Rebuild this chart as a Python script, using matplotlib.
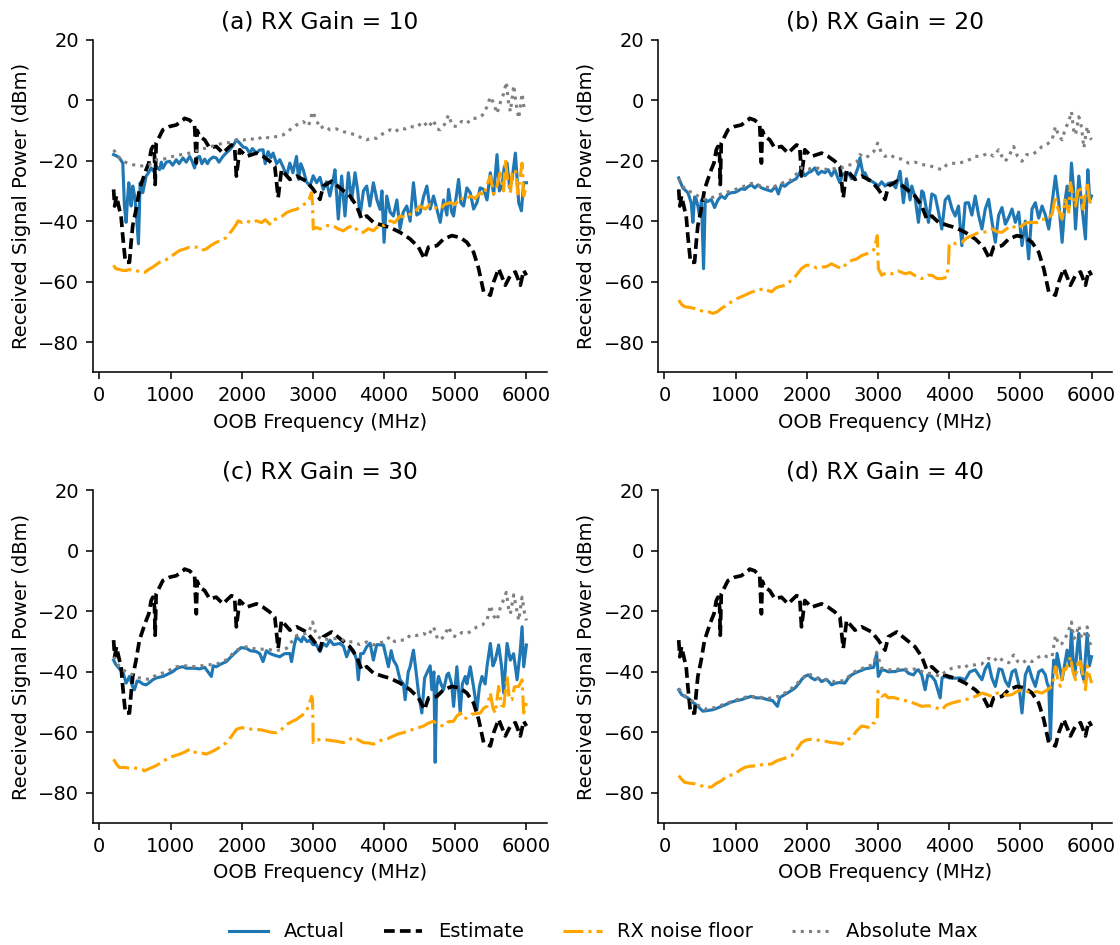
import matplotlib
matplotlib.use("Agg")
import matplotlib.pyplot as plt

# ---------------- data (frequency MHz, received power dBm) ----------------
estimate = [(200,-29.5),(215,-35.0),(240,-31.7),(282,-36.1),(305,-38.3),(329,-45.0),(366,-53.6),
            (400,-53.6),(423,-53.6),(446,-47.0),(469,-41.5),(516,-36.1),(563,-29.5),(610,-26.2),
            (657,-23.0),(695,-20.8),(728,-16.4),(751,-15.3),(775,-18.6),(784,-27.9),(798,-14.2),
            (822,-13.1),(892,-9.8),(986,-8.7),(1080,-8.2),(1174,-6.6),(1197,-6.0),(1268,-6.6),
            (1338,-8.2),(1362,-20.8),(1375,-10.0),(1408,-12.0),(1479,-13.1),(1549,-15.8),(1643,-15.3),
            (1737,-17.5),(1784,-16.4),(1855,-14.8),(1900,-15.3),(1925,-25.1),(1972,-16.4),(2066,-18.6),
            (2207,-17.5),(2300,-18.6),(2394,-20.2),(2465,-21.9),(2512,-32.2),(2559,-23.0),(2676,-26.2),
            (2770,-25.1),(2911,-26.8),(3005,-29.5),(3099,-32.8),(3146,-28.4),(3263,-26.8),(3380,-29.0),
            (3521,-31.7),(3615,-35.0),(3685,-39.3),(3756,-38.3),(3850,-40.4),(3991,-41.5),(4085,-42.1),
            (4225,-43.7),(4366,-45.9),(4484,-48.6),(4568,-52.5),(4624,-48.6),(4742,-48.1),(4836,-45.9),
            (4953,-44.8),(5070,-45.4),(5164,-47.0),(5258,-50.3),(5329,-55.7),(5399,-63.4),(5493,-64.5),
            (5540,-60.1),(5610,-55.7),(5704,-61.2),(5775,-57.9),(5845,-56.8),(5915,-61.2),(5962,-56.3),
            (6000,-57.9)]

actual_a = [(200,-18.0),(240,-18.4),(282,-19.1),(329,-20.8),(352,-35.0),(376,-40.4),(395,-33),(413,-27.3),
            (430,-31),(446,-35.0),(469,-28.4),(490,-31),(516,-36.1),(549,-47.5),(573,-27.3),(610,-30.6),
            (657,-25.1),(690,-24),(728,-22.4),(760,-23.5),(798,-21.9),(845,-23.0),(870,-20.5),(892,-22.5),
            (940,-20.5),(986,-20.2),(1030,-21.5),(1080,-19.7),(1120,-21),(1174,-19.1),(1220,-20.5),
            (1268,-18.6),(1300,-20),(1338,-22.4),(1370,-19),(1408,-18.6),(1440,-21),(1480,-19.5),
            (1520,-21),(1549,-19.7),(1600,-18.8),(1643,-19.1),(1680,-20.5),(1737,-18.6),(1780,-17.5),
            (1831,-16.4),(1880,-15),(1925,-13.1),(1972,-14.2),(2020,-15.5),(2066,-15.8),(2110,-17.5),
            (2150,-16),(2207,-17.5),(2250,-16.5),(2300,-16.4),(2330,-21.0),(2370,-17),(2410,-19),
            (2441,-17.5),(2490,-21),(2535,-19.7),(2580,-22),(2629,-25.1),(2676,-20.8),(2720,-24),
            (2770,-18.6),(2800,-26.2),(2830,-21),(2864,-23.0),(2910,-27),(2958,-28.4),(3005,-25),
            (3052,-27.3),(3100,-25.5),(3146,-29.5),(3190,-27),(3239,-31.7),(3280,-27),(3310,-23.0),
            (3357,-39.3),(3404,-25.1),(3451,-38.3),(3498,-24.0),(3545,-33),(3592,-24.0),(3630,-30),
            (3662,-38.3),(3710,-30),(3756,-28.4),(3800,-35),(3850,-27.3),(3900,-33),(3944,-36.1),
            (3970,-30),(4000,-47.0),(4038,-31.7),(4085,-37),(4131,-38.3),(4180,-33),(4225,-42.6),
            (4270,-37),(4319,-35.0),(4366,-40),(4413,-27.3),(4460,-38),(4507,-37.2),(4554,-32),
            (4601,-28.4),(4648,-36),(4695,-31.7),(4742,-36),(4789,-40.4),(4836,-33),(4883,-38),
            (4906,-29.5),(4950,-37),(4977,-38.3),(5047,-26.2),(5080,-34),(5117,-35.0),(5164,-29),
            (5211,-30.6),(5258,-36),(5305,-33.9),(5350,-29),(5399,-29.5),(5446,-33),(5493,-24.0),
            (5540,-31.1),(5587,-18.0),(5620,-30),(5657,-28.4),(5690,-22),(5728,-20.8),(5765,-29),
            (5798,-26.2),(5845,-17.5),(5892,-33.9),(5930,-36.6),(5962,-27.3),(6000,-27.3)]

noise_a = [(200,-54.6),(230,-55.7),(282,-56.0),(329,-56.3),(376,-56.3),(423,-56.0),(469,-56.3),(516,-56.3),
           (563,-56.8),(634,-57.0),(690,-56),(751,-55.2),(845,-53.6),(920,-53.0),(986,-52.0),(1060,-50.8),
           (1127,-49.7),(1200,-49.2),(1268,-48.6),(1340,-48.6),(1408,-48.6),(1460,-49.5),(1502,-49.2),
           (1570,-48.0),(1643,-47.0),(1710,-46.4),(1784,-45.4),(1831,-44.0),(1878,-42.6),(1925,-41.0),
           (1948,-39.9),(2000,-40.4),(2066,-39.9),(2130,-40.5),(2207,-39.9),(2280,-40.5),(2330,-39.5),
           (2394,-41.0),(2440,-39.5),(2488,-39.3),(2560,-38.5),(2629,-37.2),(2700,-36.5),(2770,-36.1),
           (2840,-35.0),(2911,-33.9),(2950,-32.5),(2981,-30.6),(2995,-34),(3005,-42.6),(3052,-42.1),
           (3100,-42.6),(3146,-42.1),(3200,-41.5),(3286,-41.5),(3350,-42.5),(3427,-43.2),(3500,-42),
           (3568,-41.5),(3640,-43.5),(3709,-43.7),(3780,-42.5),(3850,-43.2),(3944,-41.0),(4000,-41.5),
           (4085,-39.9),(4150,-40.5),(4225,-38.3),(4300,-38.8),(4366,-37.7),(4430,-37),(4507,-35.0),
           (4580,-36),(4648,-34.4),(4720,-35.5),(4789,-36.1),(4850,-34.5),(4930,-33.9),(5000,-34.5),
           (5070,-32.2),(5140,-33),(5211,-31.7),(5280,-32.5),(5352,-30.6),(5400,-31.5),(5446,-28),
           (5493,-25.1),(5540,-31),(5587,-28.4),(5630,-24),(5680,-30),(5704,-19.7),(5740,-27),
           (5775,-30.6),(5800,-24),(5845,-23.0),(5880,-31),(5939,-20.8),(5962,-31.7),(6000,-28.4)]

absmax_a = [(200,-16.4),(260,-18.5),(329,-20.2),(420,-21),(563,-21.9),(640,-21.5),(704,-21.3),(798,-19.7),
            (900,-19.5),(1033,-18.6),(1150,-18),(1268,-17.5),(1400,-16.5),(1502,-15.8),(1620,-15),
            (1737,-14.2),(1830,-14),(1925,-13.1),(2020,-13.2),(2113,-12.6),(2200,-13.2),(2300,-12.0),
            (2400,-12.6),(2488,-12.0),(2580,-11.5),(2676,-9.8),(2770,-8.2),(2864,-7.1),(2940,-8.5),
            (2995,-3.8),(3050,-6.5),(3099,-9.3),(3170,-8.5),(3239,-9.8),(3330,-9.5),(3427,-10.4),
            (3520,-11),(3615,-11.5),(3690,-12.6),(3756,-13.1),(3830,-12.5),(3897,-12.6),(3990,-11),
            (4085,-9.8),(4150,-10.5),(4225,-9.3),(4300,-9.5),(4366,-8.7),(4450,-9),(4554,-7.1),
            (4620,-9),(4695,-6.6),(4740,-9.5),(4789,-9.8),(4850,-8),(4906,-4.9),(4960,-8.5),(5023,-8.7),
            (5090,-7),(5164,-7.7),(5230,-6),(5305,-6.0),(5380,-5),(5446,-2.2),(5493,1.1),(5540,-1),
            (5587,-4.4),(5630,-1),(5681,2.2),(5718,6.0),(5750,-1),(5775,-3.8),(5822,4.9),(5860,-2),
            (5892,-6.0),(5939,2.2),(5970,-3),(6000,-3.3)]

actual_b = [(200,-25.7),(230,-27.5),(258,-29.0),(329,-30.6),(376,-33.9),(399,-40.4),(423,-32),(446,-32.8),
            (469,-35),(493,-38.3),(520,-33),(549,-55.7),(573,-32.8),(610,-33.5),(657,-32.8),(704,-35.5),
            (751,-33),(798,-31.7),(850,-32.5),(892,-31),(939,-30.6),(990,-30.5),(1033,-30),(1080,-29.3),
            (1130,-29.5),(1174,-28.6),(1221,-28.0),(1270,-29),(1315,-28),(1362,-29.0),(1420,-29.5),
            (1502,-30.1),(1560,-28.5),(1600,-31),(1643,-27.9),(1690,-28.5),(1737,-27.5),(1784,-26.8),
            (1850,-26),(1925,-23.0),(1972,-25),(2019,-24.0),(2066,-23.5),(2113,-22.4),(2160,-24.5),
            (2207,-23.5),(2254,-24.0),(2300,-23),(2347,-25),(2394,-23.0),(2441,-26),(2465,-27.3),
            (2500,-24.5),(2582,-24.0),(2629,-26),(2676,-25.1),(2723,-22),(2746,-19.1),(2790,-24.5),
            (2817,-24.0),(2864,-26.5),(2911,-26.8),(2958,-27.5),(3005,-28.4),(3052,-27),(3099,-28.4),
            (3146,-27.5),(3192,-27.3),(3250,-29),(3310,-23.5),(3357,-33.9),(3400,-26),(3451,-33),
            (3474,-28.4),(3520,-32),(3568,-40.4),(3615,-30),(3638,-30.6),(3680,-36),(3709,-40.4),
            (3756,-31),(3803,-31.7),(3850,-37),(3897,-42.6),(3944,-33),(3991,-31.7),(4040,-36),
            (4085,-38.3),(4131,-35),(4178,-48.1),(4225,-34),(4272,-33.9),(4319,-38),(4366,-31.7),
            (4413,-38),(4460,-42.6),(4507,-36),(4554,-32.8),(4600,-40),(4648,-47.0),(4695,-38),
            (4742,-35.5),(4789,-41),(4836,-38.8),(4883,-36),(4930,-40.4),(4977,-37),(5023,-48.1),
            (5070,-40),(5117,-52.5),(5164,-36),(5211,-33.9),(5258,-39),(5305,-35),(5352,-38),
            (5399,-42.6),(5446,-34),(5493,-25.1),(5540,-33.9),(5587,-47.0),(5630,-33),(5657,-28.4),
            (5690,-35),(5718,-20.8),(5750,-30),(5775,-42.6),(5822,-25.1),(5860,-34),(5915,-45.9),
            (5948,-23.0),(5975,-33),(6000,-31.7)]

noise_b = [(200,-66.1),(240,-67.5),(282,-68.3),(350,-68.5),(423,-68.9),(493,-69.5),(563,-69.9),(620,-70),
           (681,-70.5),(740,-70),(798,-68.9),(860,-68),(939,-66.7),(1030,-65.5),(1127,-64.5),(1220,-63.5),
           (1315,-62.8),(1408,-62.3),(1460,-63.0),(1502,-63.4),(1570,-62),(1690,-61.2),(1760,-60),
           (1831,-58.5),(1925,-55.7),(1990,-54.6),(2066,-54.6),(2140,-55.5),(2207,-55.2),(2280,-55),
           (2347,-54.1),(2420,-55),(2488,-55.7),(2560,-54),(2629,-53.0),(2700,-52.5),(2770,-51.4),
           (2840,-50.8),(2887,-50.3),(2940,-49.5),(2958,-48.1),(2990,-44.8),(3005,-55.7),(3052,-57.9),
           (3120,-57),(3200,-57.4),(3286,-56.5),(3380,-57.4),(3450,-57),(3520,-58),(3615,-59.0),
           (3700,-57.9),(3756,-57.9),(3830,-59),(3897,-59.0),(3967,-58.5),(3990,-54),(4000,-48.1),
           (4038,-47.0),(4100,-47.5),(4178,-47.0),(4250,-45.5),(4319,-44.8),(4390,-44),(4460,-43.7),
           (4530,-43.5),(4601,-42.6),(4670,-43.5),(4742,-43.7),(4810,-42.5),(4883,-41.5),(4950,-42.5),
           (5023,-41.5),(5090,-40.5),(5164,-40.4),(5230,-40.5),(5305,-39.3),(5376,-39.5),(5446,-37.7),
           (5493,-31.7),(5530,-36),(5587,-39.3),(5630,-33),(5681,-37),(5704,-27.3),(5740,-32),
           (5775,-35.0),(5810,-30),(5845,-29.5),(5880,-36),(5939,-27.3),(5970,-33),(6000,-35.0)]

absmax_b = [(200,-26),(258,-28.5),(329,-30.1),(400,-30.5),(469,-31.7),(563,-32.8),(657,-32.3),(798,-31),
            (939,-30),(1080,-28.8),(1221,-27.5),(1362,-28.5),(1502,-29),(1643,-27.5),(1784,-26.3),
            (1925,-22.4),(2019,-22.8),(2113,-22.4),(2207,-22.6),(2300,-23.0),(2394,-22.6),(2488,-22.4),
            (2582,-21.5),(2629,-21.3),(2700,-20.5),(2746,-18.0),(2817,-19.1),(2864,-18.5),(2940,-17),
            (2995,-14.2),(3050,-17.5),(3099,-18.6),(3170,-18.0),(3239,-19.1),(3330,-19.5),(3427,-20.8),
            (3521,-20.5),(3615,-21.3),(3690,-21.5),(3756,-21.9),(3830,-22.5),(3897,-23.0),(3960,-21.5),
            (4038,-20.8),(4120,-21),(4225,-20.2),(4300,-19.5),(4366,-18.6),(4450,-18.5),(4554,-17.5),
            (4620,-18.5),(4695,-16.4),(4750,-19),(4789,-20.2),(4850,-18),(4906,-15.3),(4960,-18.5),
            (5023,-20.2),(5090,-18),(5164,-18.0),(5230,-17),(5305,-15.3),(5380,-14.5),(5446,-13.1),
            (5493,-8.7),(5540,-12),(5587,-13.1),(5630,-9.5),(5681,-7),(5718,-3.8),(5750,-10),
            (5775,-11.5),(5822,-5.5),(5860,-9),(5892,-15.8),(5939,-8.7),(5970,-12),(6000,-13.1)]

actual_c = [(200,-36.1),(230,-37.5),(258,-38.3),(300,-39.5),(329,-39.9),(376,-43.7),(423,-41.5),(469,-45),
            (493,-45.9),(530,-43),(563,-43.2),(610,-44),(657,-44.3),(704,-43.5),(751,-42.6),(800,-42),
            (892,-41.5),(940,-41),(1033,-39.9),(1080,-39),(1127,-38.5),(1174,-38.3),(1221,-38.8),
            (1268,-38.8),(1340,-38.8),(1408,-39),(1480,-38.5),(1573,-41.5),(1600,-38),(1643,-38.3),
            (1700,-37.5),(1784,-36.6),(1850,-35),(1925,-33.3),(1990,-32),(2066,-32.2),(2120,-33),
            (2207,-33.3),(2254,-34),(2300,-36.6),(2347,-33),(2394,-33.9),(2460,-34.5),(2535,-35.0),
            (2600,-34),(2676,-33.9),(2700,-36.6),(2740,-31),(2770,-28.4),(2840,-30),(2864,-28.4),
            (2920,-30),(2958,-29.5),(3000,-31),(3052,-31.1),(3099,-33.3),(3146,-30.6),(3192,-31.5),
            (3239,-29.5),(3290,-31),(3380,-30.6),(3430,-31.5),(3474,-35.0),(3520,-32),(3568,-32.8),
            (3615,-36),(3638,-42.6),(3670,-34),(3709,-33.9),(3756,-31.7),(3803,-30.5),(3850,-36.1),
            (3897,-31),(3991,-31.1),(4061,-38.3),(4100,-33),(4131,-36.1),(4178,-38),(4225,-42.6),
            (4272,-44),(4296,-49.2),(4340,-40),(4366,-38.3),(4413,-32.8),(4460,-42),(4484,-47.0),
            (4531,-53.6),(4570,-42),(4601,-40.4),(4648,-38),(4671,-45.9),(4700,-40),(4718,-69.9),
            (4740,-45),(4765,-41.5),(4800,-44),(4836,-45.9),(4883,-41),(4906,-40.4),(4950,-44),
            (4977,-51.4),(5023,-38.3),(5070,-53.6),(5100,-44),(5141,-41.5),(5164,-44),(5211,-38.3),
            (5258,-45),(5305,-52.5),(5340,-45),(5376,-41.5),(5420,-44),(5446,-38.3),(5493,-30.6),
            (5530,-38),(5563,-36.1),(5610,-31.1),(5650,-38),(5681,-47.0),(5728,-30.6),(5775,-36.1),
            (5820,-34),(5869,-42.6),(5910,-34),(5939,-25.1),(5962,-38.3),(6000,-31.1)]

noise_c = [(200,-68.9),(240,-70.5),(282,-71.6),(350,-71.6),(423,-71.8),(469,-71.6),(540,-72),(600,-72.3),
           (634,-72.7),(700,-72),(798,-71.0),(900,-69.5),(986,-68.3),(1050,-67.8),(1127,-67.2),
           (1200,-66.5),(1268,-65.6),(1320,-66.5),(1408,-66.7),(1502,-67.2),(1570,-66.5),(1643,-65.6),
           (1720,-64.5),(1784,-63.4),(1850,-61.5),(1925,-59.0),(1990,-58.5),(2066,-58.5),(2140,-59),
           (2207,-59.0),(2280,-59.2),(2347,-59.6),(2420,-60),(2488,-60.1),(2560,-59),(2629,-57.4),
           (2700,-56.5),(2770,-55.7),(2840,-54.5),(2887,-53.6),(2940,-51.5),(2981,-48.1),(2995,-49),
           (3005,-63.4),(3052,-62.5),(3146,-62.3),(3200,-62.5),(3286,-62.8),(3350,-63),(3427,-63.4),
           (3500,-62.5),(3568,-61.7),(3640,-62.5),(3709,-63.4),(3780,-63.5),(3850,-63.9),(3920,-63),
           (3991,-62.3),(4060,-62),(4131,-61.2),(4200,-60.5),(4272,-60.1),(4340,-59.5),(4413,-59.0),
           (4480,-58.5),(4554,-57.9),(4620,-57),(4695,-56.3),(4760,-57.5),(4836,-57.9),(4900,-56.5),
           (4977,-56.3),(5023,-54.6),(5070,-53.6),(5120,-55.5),(5164,-55.2),(5230,-54),(5352,-53.6),
           (5400,-52),(5446,-51.4),(5493,-47.0),(5530,-52),(5563,-53.6),(5610,-44.8),(5650,-51),
           (5681,-51.4),(5728,-41.5),(5760,-49),(5798,-49.2),(5830,-45),(5892,-44.8),(5939,-42.6),
           (5962,-53.6),(6000,-50.3)]

absmax_c = [(200,-35),(258,-37.5),(329,-39.3),(423,-40.5),(563,-42),(704,-42.5),(800,-41),(940,-40),
            (1080,-38.3),(1221,-38),(1362,-38.3),(1502,-37.7),(1643,-37.5),(1784,-36),(1925,-32.8),
            (2066,-31.7),(2207,-32.5),(2347,-32.5),(2488,-33),(2629,-32.2),(2770,-28.0),(2864,-27.5),
            (2940,-27),(2995,-23.5),(3050,-28),(3146,-29.5),(3239,-29.0),(3380,-29.0),(3474,-30),
            (3568,-30.1),(3660,-31),(3756,-30.1),(3850,-31.1),(3920,-30.5),(3991,-30.1),(4085,-28.4),
            (4150,-30),(4225,-29.5),(4300,-29.5),(4366,-27.9),(4450,-28),(4554,-27.3),(4620,-28),
            (4695,-25.1),(4750,-29),(4789,-29.5),(4850,-28),(4906,-25.1),(4960,-28),(5023,-28.4),
            (5090,-27),(5164,-27.3),(5230,-26.5),(5305,-25.1),(5380,-24.5),(5446,-23.0),(5493,-18.0),
            (5540,-21.5),(5587,-23.0),(5630,-19),(5681,-16),(5718,-13.7),(5750,-19),(5775,-20.8),
            (5822,-14.5),(5860,-19),(5892,-23.0),(5939,-15.3),(5970,-20),(6000,-23.0)]

actual_d = [(200,-45.9),(240,-47.5),(282,-48.1),(329,-48.6),(376,-49.7),(423,-50.5),(469,-51.4),(516,-52.5),
            (540,-53.0),(600,-52.8),(681,-52.5),(740,-52),(798,-51.4),(860,-50.8),(939,-50.0),(1010,-49.5),
            (1080,-49.2),(1150,-48.6),(1221,-48.1),(1290,-48.6),(1362,-48.6),(1455,-49.2),(1520,-49.5),
            (1587,-51.4),(1620,-48.5),(1690,-47.5),(1760,-46.5),(1831,-45.4),(1900,-43.5),(1925,-42.6),
            (1970,-41.5),(2019,-41.0),(2066,-42),(2113,-42.6),(2160,-42),(2207,-43.2),(2270,-42.5),
            (2300,-43),(2347,-44.3),(2394,-43.8),(2460,-43.5),(2535,-43.7),(2582,-42),(2629,-41.0),
            (2676,-40.4),(2723,-39.9),(2770,-39.5),(2817,-39),(2864,-38.8),(2940,-38.5),(2981,-33.9),
            (3005,-41.5),(3052,-39.3),(3099,-39.5),(3146,-40),(3192,-39.9),(3239,-39.9),(3290,-39.5),
            (3380,-39.3),(3430,-40.5),(3498,-41.0),(3545,-39.5),(3568,-39.3),(3615,-41),(3662,-45.9),
            (3700,-41),(3756,-41.5),(3803,-43),(3873,-48.6),(3900,-42),(3944,-41.5),(4000,-42.0),
            (4085,-42.1),(4150,-42),(4225,-42.6),(4290,-40),(4366,-39.3),(4413,-41),(4460,-42.6),
            (4507,-39),(4554,-37.2),(4600,-42),(4648,-44.8),(4700,-39),(4742,-39.3),(4789,-43),
            (4836,-44.8),(4883,-40),(4930,-39.3),(4977,-44),(5023,-53.6),(5070,-41),(5117,-38.3),
            (5164,-42),(5211,-44.8),(5258,-40),(5305,-39.3),(5352,-41),(5376,-43.7),(5400,-45),
            (5423,-62.3),(5446,-45),(5469,-36.1),(5500,-40),(5516,-33.9),(5550,-38),(5587,-42.6),
            (5620,-38),(5657,-32.8),(5690,-38),(5718,-26.2),(5750,-40),(5765,-41.5),(5800,-32),
            (5822,-27.3),(5860,-40),(5892,-42.6),(5915,-35),(5939,-27.3),(5970,-38),(6000,-35.0)]

noise_d = [(200,-74.3),(240,-75.5),(282,-76.5),(350,-76.8),(423,-77.0),(500,-77.5),(563,-78),(657,-78.1),
           (720,-77),(798,-76.0),(880,-74.5),(986,-73.8),(1060,-72.5),(1127,-71.6),(1200,-71.2),
           (1315,-71.0),(1400,-70.5),(1502,-70.5),(1570,-69.5),(1643,-68.9),(1720,-68.3),(1784,-67.8),
           (1850,-66),(1925,-63.4),(1990,-62.5),(2066,-62.3),(2140,-62.5),(2207,-62.8),(2280,-63),
           (2347,-63.4),(2420,-63.5),(2488,-63.9),(2560,-62.5),(2629,-61.7),(2700,-59.5),(2770,-57.9),
           (2840,-58.2),(2887,-58.5),(2930,-57),(2958,-56.8),(2990,-55.7),(3000,-46.4),(3052,-48.1),
           (3100,-47.5),(3146,-48.6),(3200,-48.4),(3239,-48.6),(3330,-49.2),(3427,-49.7),(3520,-50.5),
           (3615,-51.4),(3700,-51.2),(3756,-51.4),(3830,-52),(3897,-52.5),(3960,-51),(4038,-50.3),
           (4131,-49.7),(4200,-49.4),(4319,-48.6),(4400,-47.8),(4460,-47.0),(4530,-47.5),(4601,-48.1),
           (4670,-47),(4742,-47.0),(4810,-47.8),(4883,-47.5),(4950,-46.5),(5023,-45.9),(5090,-46.5),
           (5164,-47.0),(5230,-46.5),(5305,-47.0),(5376,-46),(5446,-44.8),(5493,-38.3),(5530,-43),
           (5563,-44.8),(5610,-39),(5634,-39.3),(5680,-37),(5704,-35.0),(5740,-40),(5775,-42.6),
           (5810,-37),(5845,-36.6),(5880,-41),(5915,-45.9),(5940,-38),(5962,-40.4),(6000,-43.7)]

absmax_d = [(200,-45.5),(282,-47.8),(376,-49.4),(469,-51),(563,-52.3),(704,-51.8),(860,-50.5),(1010,-49.2),
            (1150,-48.3),(1290,-48.2),(1455,-48.8),(1620,-48),(1760,-46),(1900,-43),(2019,-40.5),
            (2113,-41.8),(2207,-42.5),(2300,-42.5),(2394,-43.3),(2535,-42.8),(2629,-40.5),(2723,-39.3),
            (2817,-38.5),(2940,-37.5),(2981,-33.5),(3052,-38.8),(3146,-39.3),(3239,-39.3),(3330,-38.8),
            (3430,-39.3),(3545,-39),(3662,-40.5),(3756,-40.5),(3873,-41.5),(3944,-40),(4038,-38.8),
            (4131,-38.3),(4200,-38.8),(4272,-37.7),(4366,-37.7),(4450,-37.5),(4554,-35.5),(4620,-36.5),
            (4695,-35.0),(4760,-36.5),(4836,-37),(4906,-34.4),(4960,-36.5),(5023,-37.2),(5090,-36),
            (5164,-36.6),(5230,-35.5),(5305,-34.4),(5380,-35),(5446,-35.0),(5493,-27.9),(5540,-31),
            (5587,-30.6),(5630,-29),(5681,-26),(5718,-23.5),(5750,-29),(5775,-28.4),(5822,-24.6),
            (5860,-29),(5892,-28.4),(5939,-25.1),(5970,-30),(6000,-31.7)]

titles = ["(a) RX Gain = 10", "(b) RX Gain = 20", "(c) RX Gain = 30", "(d) RX Gain = 40"]
series_labels = ["Actual", "Estimate", "RX noise floor", "Absolute Max"]
panels = [(actual_a, noise_a, absmax_a), (actual_b, noise_b, absmax_b),
          (actual_c, noise_c, absmax_c), (actual_d, noise_d, absmax_d)]
xticks = [0, 1000, 2000, 3000, 4000, 5000, 6000]
yticks = [20, 0, -20, -40, -60, -80]

# ---------------- plotting ----------------
def xy(pairs):
    return [p[0] for p in pairs], [p[1] for p in pairs]

fig, axes = plt.subplots(2, 2, figsize=(8, 6.75), dpi=140)
fig.subplots_adjust(left=0.083, right=0.993, top=0.958, bottom=0.129, wspace=0.2445, hspace=0.355)

handles = None
for ax, title, (act, noi, amx) in zip(axes.flat, titles, panels):
    h1, = ax.plot(*xy(act), color="#1f77b4", lw=1.6, ls="-", label=series_labels[0])
    h2, = ax.plot(*xy(estimate), color="black", lw=1.9, ls="--", dashes=(2.9, 1.4),
                  label=series_labels[1])
    h3, = ax.plot(*xy(noi), color="orange", lw=1.6, ls="-.", label=series_labels[2])
    h4, = ax.plot(*xy(amx), color="gray", lw=1.6, ls=":", label=series_labels[3])
    handles = [h1, h2, h3, h4]
    ax.set_title(title)
    ax.set_ylim(-90, 20)
    ax.set_xticks(xticks)
    ax.set_yticks(yticks)
    ax.set_xlabel("OOB Frequency (MHz)")
    ax.set_ylabel("Received Signal Power (dBm)")
    ax.spines["top"].set_visible(False)
    ax.spines["right"].set_visible(False)

fig.legend(handles, series_labels, loc="center", ncol=4, frameon=False,
           bbox_to_anchor=(0.539, 0.0138), columnspacing=2.0)

fig.savefig("out.png", dpi=140)
